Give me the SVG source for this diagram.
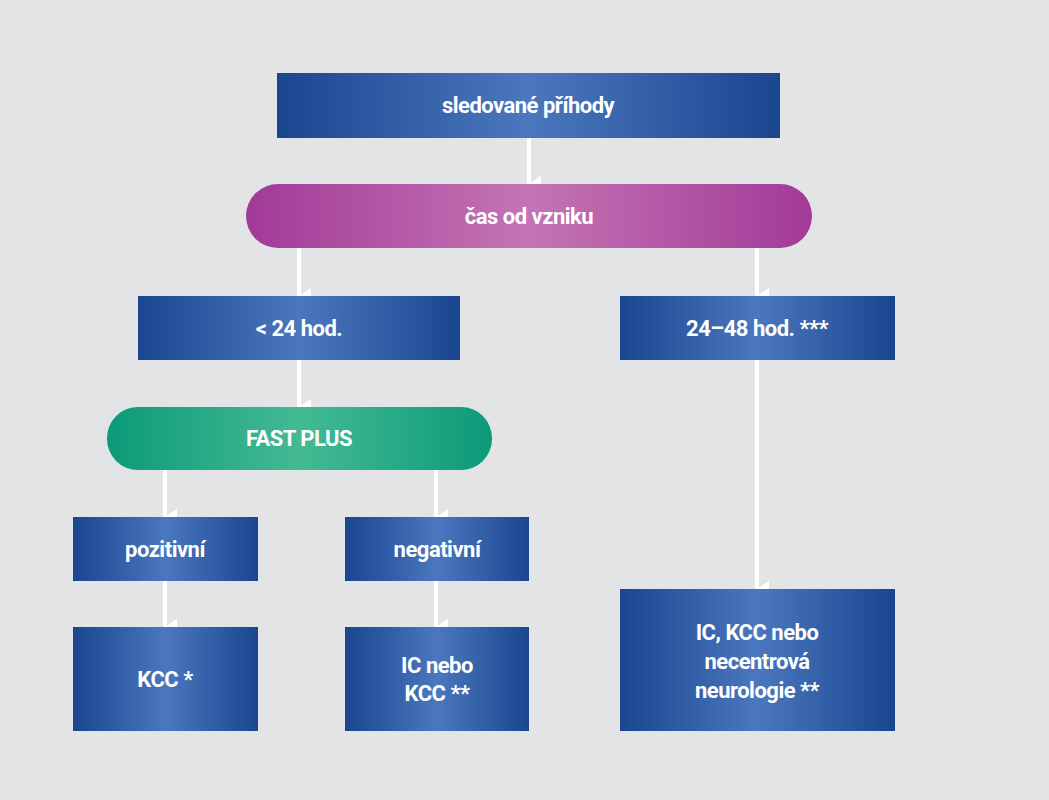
<svg xmlns="http://www.w3.org/2000/svg" width="1049" height="800" viewBox="0 0 1049 800">
<defs>
<linearGradient id="gb" x1="0" x2="1" y1="0" y2="0"><stop offset="0" stop-color="#1a4690"/><stop offset="0.5" stop-color="#4a77bd"/><stop offset="1" stop-color="#1a4690"/></linearGradient>
<linearGradient id="gp" x1="0" x2="1" y1="0" y2="0"><stop offset="0" stop-color="#a23a98"/><stop offset="0.5" stop-color="#c474b4"/><stop offset="1" stop-color="#a23a98"/></linearGradient>
<linearGradient id="gg" x1="0" x2="1" y1="0" y2="0"><stop offset="0" stop-color="#0c9a78"/><stop offset="0.5" stop-color="#44ba94"/><stop offset="1" stop-color="#0c9a78"/></linearGradient>
<marker id="ah" viewBox="0 0 16 12" refX="8" refY="12" markerWidth="16" markerHeight="12" markerUnits="userSpaceOnUse" orient="auto-start-reverse"><path d="M0 0 L16 0 L8 12 Z" fill="#fff"/></marker>
</defs>
<style>
.b{fill:url(#gb)} .p{fill:url(#gp)} .g{fill:url(#gg)}
text{font-family:Roboto,"Liberation Sans",sans-serif;font-weight:bold;font-size:22px;fill:#fff;text-anchor:middle;letter-spacing:-0.5px}
.c line{stroke:#fff;stroke-width:4;marker-end:url(#ah)}
</style>
<rect width="1049" height="800" fill="#e3e4e5"/>
<g class="c">
<line x1="529" y1="138" x2="529" y2="184" transform="rotate(0)"/>
<line x1="299" y1="248" x2="299" y2="296"/>
<line x1="757" y1="248" x2="757" y2="296"/>
<line x1="299" y1="360" x2="299" y2="407"/>
<line x1="165" y1="470" x2="165" y2="517"/>
<line x1="436" y1="470" x2="436" y2="517"/>
<line x1="165" y1="581" x2="165" y2="627"/>
<line x1="436" y1="581" x2="436" y2="627"/>
<line x1="757" y1="360" x2="757" y2="589"/>
</g>
<g id="n1"><rect class="b" x="277" y="73" width="503" height="65"/><text x="528" y="113">sledované příhody</text></g>
<g id="n2"><rect class="p" x="246" y="184" width="566" height="64" rx="32"/><text x="529" y="224">čas od vzniku</text></g>
<g id="n3"><rect class="b" x="138" y="296" width="322" height="64"/><text x="299" y="336">&lt; 24 hod.</text></g>
<g id="n4"><rect class="b" x="620" y="296" width="275" height="64"/><text x="757" y="336">24–48 hod. ***</text></g>
<g id="n5"><rect class="g" x="107" y="407" width="385" height="63" rx="31"/><text x="299" y="446">FAST PLUS</text></g>
<g id="n6"><rect class="b" x="73" y="517" width="185" height="64"/><text x="165" y="557">pozitivní</text></g>
<g id="n7"><rect class="b" x="345" y="517" width="184" height="64"/><text x="437" y="557">negativní</text></g>
<g id="n8"><rect class="b" x="73" y="627" width="185" height="104"/><text x="165" y="687">KCC *</text></g>
<g id="n9"><rect class="b" x="345" y="627" width="184" height="104"/><text x="437" y="673">IC nebo</text><text x="437" y="701">KCC **</text></g>
<g id="n10"><rect class="b" x="620" y="589" width="275" height="142"/><text x="757" y="640">IC, KCC nebo</text><text x="757" y="669">necentrová</text><text x="757" y="698">neurologie **</text></g>
</svg>
